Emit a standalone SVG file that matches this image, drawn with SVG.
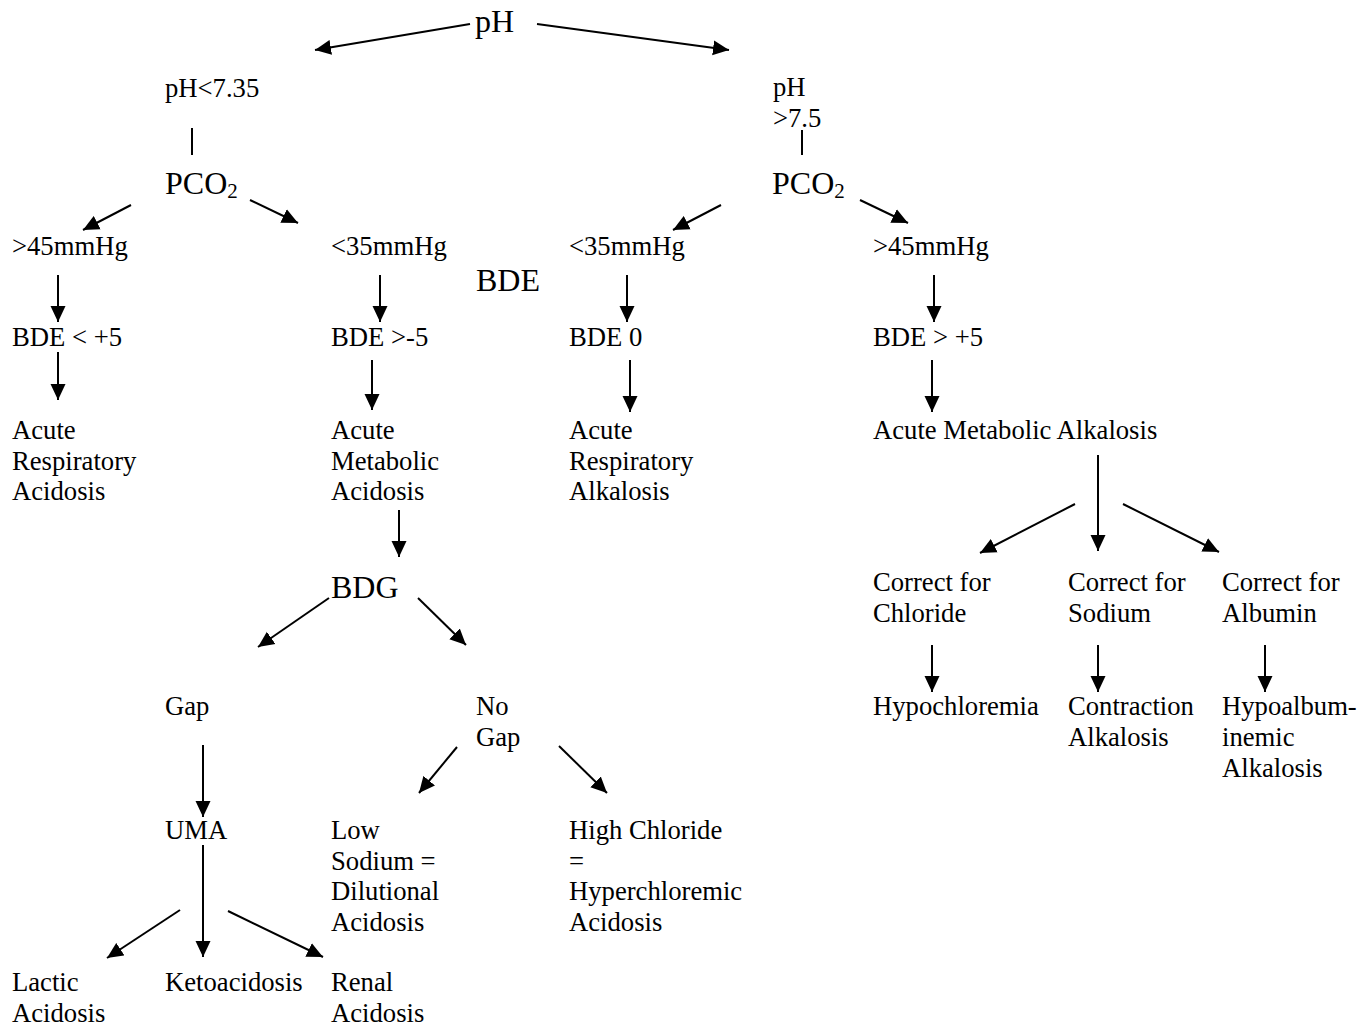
<svg xmlns="http://www.w3.org/2000/svg" width="1372" height="1026" viewBox="0 0 1372 1026">
<style>
text{font-family:"Liberation Serif","Times New Roman",serif;font-size:26.67px;fill:#000}
.big{font-size:32px}
.c line{stroke:#000;stroke-width:2}
.c line.a{marker-end:url(#ah)}
</style>
<defs>
<marker id="ah" markerUnits="userSpaceOnUse" markerWidth="17" markerHeight="16" refX="16" refY="8" orient="auto" viewBox="0 0 17 16">
<path d="M0,0.5 L16,8 L0,15.5 z" fill="#000"/>
</marker>
</defs>
<rect width="1372" height="1026" fill="#fff"/>
<g class="c" id="connectors">
<line class="a" x1="470" y1="24" x2="315" y2="50"/>
<line class="a" x1="537" y1="24" x2="729" y2="50"/>
<line x1="192" y1="128" x2="192" y2="155"/>
<line x1="802" y1="130" x2="802" y2="155"/>
<line class="a" x1="131" y1="205" x2="83" y2="230"/>
<line class="a" x1="250" y1="200" x2="298" y2="223"/>
<line class="a" x1="721" y1="205" x2="673" y2="230"/>
<line class="a" x1="860" y1="200" x2="908" y2="223"/>
<line class="a" x1="58" y1="275" x2="58" y2="322"/>
<line class="a" x1="380" y1="275" x2="380" y2="322"/>
<line class="a" x1="627" y1="275" x2="627" y2="322"/>
<line class="a" x1="934" y1="275" x2="934" y2="322"/>
<line class="a" x1="58" y1="352" x2="58" y2="400"/>
<line class="a" x1="372" y1="360" x2="372" y2="410"/>
<line class="a" x1="630" y1="360" x2="630" y2="412"/>
<line class="a" x1="932" y1="360" x2="932" y2="412"/>
<line class="a" x1="399" y1="510" x2="399" y2="557"/>
<line class="a" x1="329" y1="598" x2="258" y2="647"/>
<line class="a" x1="418" y1="598" x2="466" y2="645"/>
<line class="a" x1="203" y1="745" x2="203" y2="817"/>
<line class="a" x1="203" y1="845" x2="203" y2="957"/>
<line class="a" x1="180" y1="910" x2="107" y2="958"/>
<line class="a" x1="228" y1="911" x2="323" y2="957"/>
<line class="a" x1="457" y1="747" x2="419" y2="793"/>
<line class="a" x1="559" y1="746" x2="607" y2="793"/>
<line class="a" x1="1098" y1="455" x2="1098" y2="551"/>
<line class="a" x1="1075" y1="504" x2="980" y2="553"/>
<line class="a" x1="1123" y1="504" x2="1219" y2="552"/>
<line class="a" x1="932" y1="645" x2="932" y2="692"/>
<line class="a" x1="1098" y1="645" x2="1098" y2="692"/>
<line class="a" x1="1265" y1="645" x2="1265" y2="692"/>
</g>
<g id="n-ph"><text class="big" x="475" y="32">pH</text></g>
<g id="n-ph-low"><text x="165" y="97">pH&lt;7.35</text></g>
<g id="n-ph-high"><text x="773" y="96">pH</text><text x="773" y="127">&gt;7.5</text></g>
<g id="n-pco2-l"><text class="big" x="165" y="194">PCO<tspan font-size="21" dy="4">2</tspan></text></g>
<g id="n-pco2-r"><text class="big" x="772" y="194">PCO<tspan font-size="21" dy="4">2</tspan></text></g>
<g id="n-gt45-l"><text x="12" y="255">&gt;45mmHg</text></g>
<g id="n-lt35-l"><text x="331" y="255">&lt;35mmHg</text></g>
<g id="n-lt35-r"><text x="569" y="255">&lt;35mmHg</text></g>
<g id="n-gt45-r"><text x="873" y="255">&gt;45mmHg</text></g>
<g id="n-bde"><text class="big" x="476" y="291">BDE</text></g>
<g id="n-bde1"><text x="12" y="346">BDE &lt; +5</text></g>
<g id="n-bde2"><text x="331" y="346">BDE &gt;-5</text></g>
<g id="n-bde3"><text x="569" y="346">BDE 0</text></g>
<g id="n-bde4"><text x="873" y="346">BDE &gt; +5</text></g>
<g id="n-ara"><text x="12" y="439">Acute</text><text x="12" y="470">Respiratory</text><text x="12" y="500">Acidosis</text></g>
<g id="n-ama"><text x="331" y="439">Acute</text><text x="331" y="470">Metabolic</text><text x="331" y="500">Acidosis</text></g>
<g id="n-aral"><text x="569" y="439">Acute</text><text x="569" y="470">Respiratory</text><text x="569" y="500">Alkalosis</text></g>
<g id="n-amal"><text x="873" y="439">Acute Metabolic Alkalosis</text></g>
<g id="n-bdg"><text class="big" x="331" y="598">BDG</text></g>
<g id="n-cfc"><text x="873" y="591">Correct for</text><text x="873" y="622">Chloride</text></g>
<g id="n-cfs"><text x="1068" y="591">Correct for</text><text x="1068" y="622">Sodium</text></g>
<g id="n-cfa"><text x="1222" y="591">Correct for</text><text x="1222" y="622">Albumin</text></g>
<g id="n-gap"><text x="165" y="715">Gap</text></g>
<g id="n-nogap"><text x="476" y="715">No</text><text x="476" y="746">Gap</text></g>
<g id="n-hypocl"><text x="873" y="715">Hypochloremia</text></g>
<g id="n-contr"><text x="1068" y="715">Contraction</text><text x="1068" y="746">Alkalosis</text></g>
<g id="n-hypoalb"><text x="1222" y="715">Hypoalbum-</text><text x="1222" y="746">inemic</text><text x="1222" y="777">Alkalosis</text></g>
<g id="n-uma"><text x="165" y="839">UMA</text></g>
<g id="n-lowna"><text x="331" y="839">Low</text><text x="331" y="870">Sodium =</text><text x="331" y="900">Dilutional</text><text x="331" y="931">Acidosis</text></g>
<g id="n-highcl"><text x="569" y="839">High Chloride</text><text x="569" y="870">=</text><text x="569" y="900">Hyperchloremic</text><text x="569" y="931">Acidosis</text></g>
<g id="n-lactic"><text x="12" y="991">Lactic</text><text x="12" y="1022">Acidosis</text></g>
<g id="n-keto"><text x="165" y="991">Ketoacidosis</text></g>
<g id="n-renal"><text x="331" y="991">Renal</text><text x="331" y="1022">Acidosis</text></g>
</svg>
